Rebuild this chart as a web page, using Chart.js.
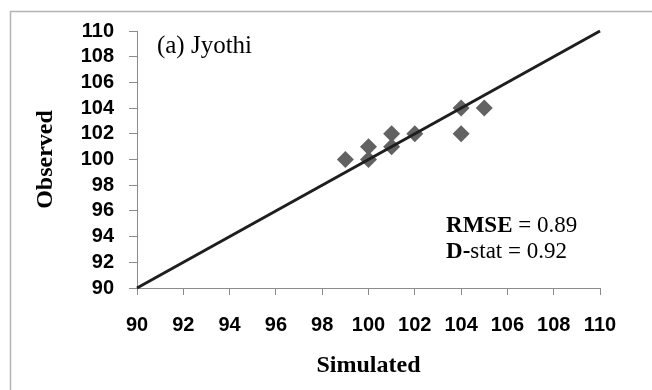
<!DOCTYPE html>
<html>
<head>
<meta charset="utf-8">
<title>(a) Jyothi - Observed vs Simulated</title>
<script src="https://cdn.jsdelivr.net/npm/chart.js@4/dist/chart.umd.min.js"></script>
<style>
    html, body { margin: 0; padding: 0; background: #fff; }
    #wrap { width: 652px; height: 390px; }
</style>
</head>
<body>
<div id="wrap"><canvas id="chart" width="652" height="390"></canvas></div>
<script>
(function () {
    'use strict';

    // ── data ─────────────────────────────────────────────────────────────
    const simulated = [99, 100, 100, 101, 101, 102, 104, 104, 105];
    const observed  = [100, 101, 100, 102, 101, 102, 104, 102, 104];
    const oneToOne  = [90, 110];             // 1:1 line end points
    const axisMin = 90, axisMax = 110, axisStep = 2;

    const panelTitle = '(a) Jyothi';
    const stats = [
        { bold: 'RMSE', rest: ' = 0.89' },
        { bold: 'D-',   rest: 'stat = 0.92' }
    ];

    const SERIF = '"Liberation Serif", "Times New Roman", serif';
    const SANS  = '"Liberation Sans", Arial, sans-serif';
    const AXIS_GREY = '#8c8c8c';

    // outer frame + text annotations
    const decorations = {
        id: 'decorations',
        beforeDraw(chart) {
            const ctx = chart.ctx;
            ctx.save();
            ctx.strokeStyle = '#b4b4b4';
            ctx.lineWidth = 1.5;
            ctx.strokeRect(10.5, 11.5, 700, 450);
            ctx.restore();
        },
        afterDraw(chart) {
            const { ctx, scales: { x, y } } = chart;
            ctx.save();
            ctx.fillStyle = '#000';
            ctx.textBaseline = 'alphabetic';
            ctx.textAlign = 'left';

            ctx.font = '25px ' + SERIF;
            ctx.fillText(panelTitle, x.getPixelForValue(90.86), y.getPixelForValue(108.3));

            const sx = x.getPixelForValue(103.35);
            const baselines = [94.36, 92.34];
            stats.forEach((s, i) => {
                const by = y.getPixelForValue(baselines[i]);
                ctx.font = 'bold 23px ' + SERIF;
                ctx.fillText(s.bold, sx, by);
                const w = ctx.measureText(s.bold).width;
                ctx.font = '23px ' + SERIF;
                ctx.fillText(s.rest, sx + w, by);
            });
            ctx.restore();
        }
    };

    const points = simulated.map((v, i) => ({ x: v, y: observed[i] }));
    const line   = oneToOne.map(v => ({ x: v, y: v }));

    new Chart(document.getElementById('chart'), {
        type: 'scatter',
        data: {
            datasets: [
                {
                    type: 'line',
                    label: '1:1',
                    data: line,
                    borderColor: '#1e1e1e',
                    borderWidth: 3,
                    pointRadius: 0,
                    fill: false,
                    clip: false
                },
                {
                    label: 'Observed',
                    data: points,
                    pointStyle: 'rectRot',
                    pointRadius: 8.5,
                    backgroundColor: '#626262',
                    borderColor: '#626262',
                    borderWidth: 0
                }
            ]
        },
        options: {
            responsive: false,
            animation: false,
            devicePixelRatio: 1,
            layout: { padding: { left: 31, top: 31, right: 52, bottom: 10 } },
            plugins: {
                legend: { display: false },
                tooltip: { enabled: false }
            },
            scales: {
                x: {
                    type: 'linear',
                    min: axisMin, max: axisMax,
                    afterFit: (s) => { s.height = 92; },
                    ticks: {
                        stepSize: axisStep,
                        autoSkip: false,
                        maxRotation: 0,
                        padding: 18,
                        color: '#000',
                        font: { family: SANS, size: 20, weight: 'bold' }
                    },
                    grid: { drawOnChartArea: false, drawTicks: true, tickLength: 7, color: AXIS_GREY },
                    border: { color: AXIS_GREY, width: 1 },
                    title: {
                        display: true,
                        text: 'Simulated',
                        color: '#000',
                        padding: { top: 16, bottom: 0 },
                        font: { family: SERIF, size: 24, weight: 'bold' }
                    }
                },
                y: {
                    type: 'linear',
                    min: axisMin, max: axisMax,
                    afterFit: (s) => { s.width = 106; },
                    ticks: {
                        stepSize: axisStep,
                        autoSkip: false,
                        padding: 15,
                        color: '#000',
                        font: { family: SANS, size: 20, weight: 'bold' }
                    },
                    grid: { drawOnChartArea: false, drawTicks: true, tickLength: 8, color: AXIS_GREY },
                    border: { color: AXIS_GREY, width: 1 },
                    title: {
                        display: true,
                        text: 'Observed',
                        color: '#000',
                        padding: { top: 0, bottom: 0 },
                        font: { family: SERIF, size: 24, weight: 'bold' }
                    }
                }
            }
        },
        plugins: [decorations]
    });
})();
</script>
</body>
</html>
